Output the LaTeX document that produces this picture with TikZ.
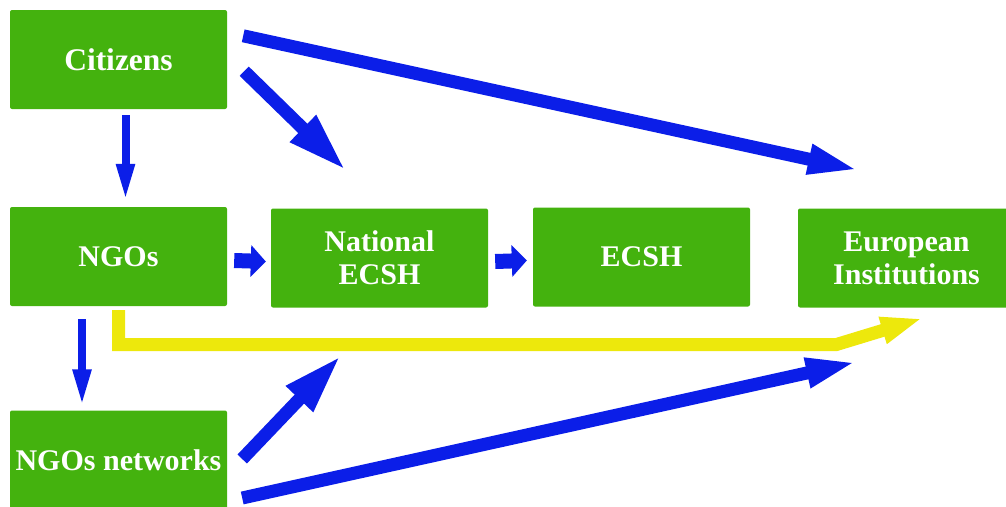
\documentclass[tikz,border=0pt]{standalone}
\usepackage{fontspec}
\setmainfont{Liberation Serif}
\usetikzlibrary{arrows.meta}

\definecolor{boxgreen}{RGB}{68,178,14}
\definecolor{arrblue}{RGB}{11,30,232}
\definecolor{arryellow}{RGB}{237,232,12}

\begin{document}
\begin{tikzpicture}[x=1pt,y=-1pt,
    box/.style={fill=boxgreen,rounded corners=2pt,minimum width=217pt,minimum height=99pt,
        text=white,font=\fontsize{30}{33}\selectfont\bfseries,align=center},
    longarr/.style={draw=arrblue,line width=13pt,-{Triangle[length=52pt,width=27pt]}},
    diagarr/.style={draw=arrblue,line width=13pt,-{Triangle[length=60pt,width=34pt]}},
    thinarr/.style={draw=arrblue,line width=8pt,-{Triangle[length=37pt,width=17pt]}},
    blockarr/.style={draw=arrblue,line width=15pt,-{Triangle[length=15pt,width=31pt]}},
    yelarr/.style={draw=arryellow,line width=13pt,-{Triangle[length=42pt,width=25pt]}}]
    \tikzstyle{every node}+=[inner sep=0pt]
    \useasboundingbox (0,0) rectangle (1006,506);
    \node [box,font=\fontsize{31.5}{34}\selectfont\bfseries] (cit) at (118.5,59.5) {Citizens};
    \node [box] (ngo) at (118.5,256.5) {NGOs};
    \node [box] (nat) at (379.5,258) {National\\ECSH};
    \node [box] (ecsh) at (641.5,257) {ECSH};
    \node [box] (eur) at (906.5,258) {European\\Institutions};
    \node [box] (net) at (118.5,460) {NGOs networks};
    \draw [longarr] ([shift={(16,26)}]cit.north east) -- ([shift={(62,-38)}]eur.north west);
    \draw [diagarr] ([shift={(17,-38)}]cit.south east) -- ([shift={(75,-38)}]nat.north west);
    \draw [thinarr] ([shift={(7,6)}]cit.south) -- ([shift={(7,-6)}]ngo.north);
    \draw [blockarr] ([shift={(7,4)}]ngo.east) -- ([shift={(-5,3.5)}]nat.west);
    \draw [blockarr] ([shift={(7,3.5)}]nat.east) -- ([shift={(-6,3.5)}]ecsh.west);
    \draw [thinarr] ([shift={(-36.5,13)}]ngo.south) -- ([shift={(-36.5,-4)}]net.north);
    \draw [yelarr] ([shift={(0,4)}]ngo.south) |- ([shift={(38,37)}]eur.south west) -- ([shift={(125,10.5)}]eur.south west);
    \draw [diagarr] ([shift={(15,-1)}]net.east) -- ([shift={(70,48)}]nat.south west);
    \draw [longarr] ([shift={(15,38)}]net.east) -- ([shift={(60,54)}]eur.south west);
\end{tikzpicture}
\end{document}
